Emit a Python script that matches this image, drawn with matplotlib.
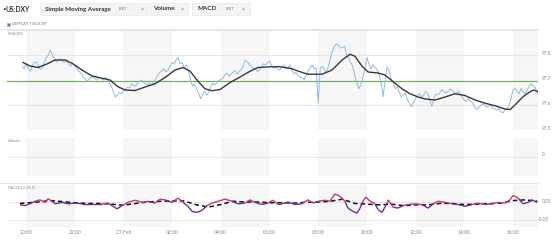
import numpy as np
import matplotlib
matplotlib.use("Agg")
import matplotlib.pyplot as plt
import matplotlib.transforms as mtransforms
from matplotlib.patches import Rectangle
from matplotlib.collections import LineCollection

plt.rcParams['font.family'] = ['Lato', 'DejaVu Sans']

# ---------------- data ----------------
# price samples every 5 minutes, minutes after 20:00 (26 Feb)
price_minutes = list(range(-10, 1261, 5))
price_values = [
    97.755, 97.745, 97.765, 97.750, 97.735, 97.752, 97.770, 97.772, 97.760, 97.742,
    97.748, 97.770, 97.790, 97.800, 97.820, 97.800, 97.785, 97.772, 97.780, 97.785,
    97.775, 97.770, 97.780, 97.765, 97.755, 97.768, 97.760, 97.745, 97.735, 97.728,
    97.715, 97.706, 97.695, 97.702, 97.710, 97.716, 97.705, 97.700, 97.712, 97.706,
    97.700, 97.712, 97.705, 97.690, 97.675, 97.655, 97.632, 97.640, 97.650, 97.645,
    97.655, 97.664, 97.670, 97.668, 97.685, 97.678, 97.675, 97.688, 97.695, 97.700,
    97.690, 97.684, 97.680, 97.688, 97.680, 97.690, 97.705, 97.720, 97.730, 97.738,
    97.745, 97.732, 97.740, 97.758, 97.770, 97.765, 97.780, 97.790, 97.765, 97.770,
    97.750, 97.760, 97.740, 97.705, 97.675, 97.685, 97.665, 97.650, 97.625, 97.640,
    97.655, 97.640, 97.650, 97.672, 97.687, 97.680, 97.690, 97.700, 97.700, 97.708,
    97.720, 97.728, 97.715, 97.722, 97.730, 97.738, 97.725, 97.735, 97.740, 97.755,
    97.780, 97.772, 97.765, 97.755, 97.745, 97.748, 97.733, 97.742, 97.750, 97.765,
    97.760, 97.770, 97.775, 97.760, 97.745, 97.752, 97.743, 97.740, 97.750, 97.760,
    97.752, 97.745, 97.760, 97.740, 97.725, 97.730, 97.720, 97.712, 97.710, 97.700,
    97.715, 97.735, 97.750, 97.760, 97.745, 97.748, 97.608, 97.745, 97.755, 97.742,
    97.730, 97.755, 97.787, 97.815, 97.835, 97.845, 97.840, 97.828, 97.830, 97.835,
    97.800, 97.790, 97.770, 97.755, 97.720, 97.690, 97.665, 97.680, 97.710, 97.745,
    97.790, 97.765, 97.745, 97.762, 97.750, 97.742, 97.720, 97.690, 97.633, 97.700,
    97.753, 97.735, 97.705, 97.690, 97.665, 97.672, 97.650, 97.632, 97.640, 97.648,
    97.620, 97.605, 97.593, 97.610, 97.625, 97.640, 97.645, 97.630, 97.640, 97.655,
    97.645, 97.620, 97.595, 97.625, 97.645, 97.640, 97.650, 97.662, 97.653, 97.648,
    97.655, 97.664, 97.660, 97.650, 97.645, 97.655, 97.645, 97.632, 97.620, 97.615,
    97.625, 97.615, 97.610, 97.595, 97.582, 97.590, 97.598, 97.605, 97.600, 97.592,
    97.595, 97.600, 97.587, 97.583, 97.580, 97.585, 97.573, 97.568, 97.580, 97.586,
    97.595, 97.625, 97.660, 97.668, 97.655, 97.645, 97.667, 97.652, 97.645, 97.660,
    97.675, 97.685, 97.675, 97.670, 97.645,
]

# Simple moving average (20), hours after 20:00
sma_hours = [
    -0.12, 0.16, 0.49, 0.86, 1.19, 1.60, 1.89, 2.30, 2.71, 3.12,
    3.45, 3.78, 4.07, 4.48, 4.89, 5.30, 5.71, 6.12, 6.45, 6.74,
    7.02, 7.35, 7.64, 7.97, 8.38, 8.79, 9.20, 9.53, 10.02, 10.43,
    10.92, 11.25, 11.58, 12.16, 12.57, 12.98, 13.31, 13.51, 13.80, 14.05,
    14.46, 14.74, 15.03, 15.44, 15.77, 16.10, 16.39, 16.80, 17.21, 17.62,
    18.03, 18.44, 18.86, 19.26, 19.67, 19.88, 20.08, 20.41, 20.70, 20.86, 21.03,
]
sma_values = [
    97.770, 97.756, 97.750, 97.764, 97.780, 97.780, 97.767, 97.740, 97.716, 97.707,
    97.700, 97.673, 97.660, 97.658, 97.672, 97.685, 97.710, 97.740, 97.750, 97.735,
    97.700, 97.665, 97.657, 97.662, 97.690, 97.712, 97.735, 97.750, 97.753, 97.753,
    97.745, 97.733, 97.723, 97.723, 97.740, 97.780, 97.803, 97.795, 97.755, 97.732,
    97.728, 97.720, 97.697, 97.665, 97.645, 97.632, 97.624, 97.620, 97.632, 97.645,
    97.638, 97.620, 97.607, 97.597, 97.584, 97.582, 97.600, 97.633, 97.653, 97.660, 97.653,
]

reference_level = 97.695

# MACD(12,26,9), hours after 20:00
macd_hours = [
    -0.25, -0.04, 0.16, 0.37, 0.57, 0.78, 0.90, 1.07, 1.19, 1.48,
    1.72, 2.01, 2.30, 2.71, 3.12, 3.37, 3.57, 3.74, 3.94, 4.19,
    4.48, 4.76, 5.01, 5.30, 5.50, 5.71, 6.00, 6.24, 6.45, 6.65,
    6.82, 7.02, 7.23, 7.43, 7.64, 7.89, 8.17, 8.46, 8.71, 8.99,
    9.20, 9.40, 9.69, 9.94, 10.14, 10.35, 10.51, 10.76, 11.05, 11.33,
    11.58, 11.79, 11.99, 12.28, 12.48, 12.69, 12.90, 13.10, 13.22, 13.43,
    13.59, 13.72, 13.84, 13.96, 14.13, 14.33, 14.46, 14.62, 14.83, 14.87,
    15.07, 15.28, 15.48, 15.69, 15.98, 16.26, 16.51, 16.72, 16.92, 17.21,
    17.50, 17.74, 18.03, 18.32, 18.56, 18.85, 19.14, 19.39, 19.67, 19.88,
    20.00, 20.21, 20.41, 20.62, 20.78, 20.99,
]
macd_values = [
    -0.007, -0.010, -0.005, 0.002, 0.006, -0.001, 0.009, 0.002, -0.005, -0.001,
    -0.005, -0.003, -0.005, -0.005, -0.005, -0.003, -0.012, -0.019, -0.010, -0.001,
    0.005, -0.001, 0.002, -0.003, 0.008, 0.006, -0.001, 0.011, -0.001, -0.012,
    -0.026, -0.029, -0.023, -0.010, -0.003, 0.002, 0.008, 0.002, -0.005, -0.003,
    0.006, -0.001, -0.007, -0.003, 0.005, -0.007, -0.005, 0.000, -0.007, -0.005,
    0.006, -0.003, 0.002, 0.005, 0.002, 0.022, 0.016, 0.002, -0.017, -0.026,
    -0.031, -0.017, 0.002, 0.014, 0.002, -0.005, -0.021, -0.029, -0.003, 0.006,
    -0.014, -0.017, -0.010, -0.007, -0.005, -0.007, -0.017, -0.005, 0.002, -0.001,
    -0.005, -0.007, -0.012, -0.007, -0.003, -0.007, -0.005, -0.001, -0.003, 0.006,
    0.018, 0.011, -0.005, -0.001, 0.006, -0.001,
]
signal_hours = [
    -0.25, 0.5, 1.0, 1.5, 2.0, 2.5, 3.0, 3.5, 4.0, 4.5, 5.0, 5.5, 6.0, 6.5,
    7.0, 7.5, 8.0, 8.5, 9.0, 9.5, 10.0, 10.5, 11.0, 11.5, 12.0, 12.5, 13.0,
    13.5, 14.0, 14.5, 15.0, 15.5, 16.0, 16.5, 17.0, 17.5, 18.0, 18.5, 19.0,
    19.5, 20.0, 20.5, 21.0,
]
signal_values = [
    -0.004, 0.000, 0.004, 0.001, -0.002, -0.004, -0.004, -0.006, -0.009, -0.004,
    0.000, 0.002, 0.003, 0.003, -0.008, -0.014, -0.007, 0.002, 0.000, 0.000,
    -0.002, -0.002, -0.003, -0.001, 0.000, 0.002, 0.008, -0.004, -0.006, -0.008,
    -0.006, -0.010, -0.008, -0.008, -0.004, -0.004, -0.007, -0.006, -0.005, -0.003,
    0.004, 0.006, 0.002,
]

tick_hours = [0, 2, 4, 6, 8, 10, 12, 14, 16, 18, 20]
tick_labels = ["20:00", "22:00", "27 Feb", "02:00", "04:00", "06:00",
               "08:00", "10:00", "12:00", "14:00", "16:00"]
price_ticks = [97.8, 97.7, 97.6, 97.5]
price_tick_labels = ["97.8", "97.7", "97.6", "97.5"]
macd_ticks = [0.0, -0.05]
macd_tick_labels = ["0.00", "-0.05"]
band_starts = [0, 4, 8, 12, 16, 20]

# ---------------- layout ----------------
W, H = 559, 241
fig = plt.figure(figsize=(W / 100, H / 100), dpi=100)
fig.patch.set_facecolor("white")

def fx(x):
    return x / W

def fy(y):
    return 1 - y / H

L, R = 7, 538
ax_p = fig.add_axes([fx(L), fy(130), fx(R) - fx(L), 100 / H])
ax_v = fig.add_axes([fx(L), fy(176), fx(R) - fx(L), 38 / H])
ax_m = fig.add_axes([fx(L), fy(227), fx(R) - fx(L), 42 / H])

xlim = ((L - 26) / 24.35, (R - 26) / 24.35)
grid_c = "#e6e6e6"
band_c = "#f6f6f6"
txt_c = "#888888"

for ax in (ax_p, ax_v, ax_m):
    ax.set_xlim(*xlim)
    for s in ax.spines.values():
        s.set_visible(False)
    ax.set_xticks([])
    ax.set_yticks([])
    for b in band_starts:
        ax.axvspan(b, b + 2, color=band_c, lw=0, zorder=0)

# main price panel
ax_p.set_ylim(97.5, 97.9)
for v in [97.9, 97.8, 97.6, 97.5]:
    ax_p.axhline(v, color=grid_c, lw=0.8, zorder=1)
ax_p.axhline(reference_level, color="#6fb35c", lw=0.9, zorder=2)
price_hours = np.array(price_minutes) / 60.0
ax_p.plot(price_hours, price_values, color="#8fbbe4", lw=0.7, zorder=3)
ax_p.plot(sma_hours, sma_values, color="#383838", lw=1.0, zorder=4)

def right_labels(ax, ticks, labels, dy):
    tr = mtransforms.blended_transform_factory(ax.transAxes, ax.transData)
    tr = mtransforms.offset_copy(tr, fig=fig, x=0, y=dy, units='dots')
    for v, lab in zip(ticks, labels):
        xoff = 1.0075 if not lab.startswith("-") else 0.999
        ax.text(xoff, v, lab, transform=tr, ha='left', va='center',
                fontsize=3.4, color=txt_c, clip_on=False)

right_labels(ax_p, price_ticks, price_tick_labels, 2)

# volume panel (empty)
ax_v.set_ylim(-1, 1)
ax_v.axhline(0, color=grid_c, lw=0.8, zorder=1)
right_labels(ax_v, [0], ["0"], 3)

# MACD panel
ax_m.set_ylim(-0.0694, 0.0472)
ax_m.axhline(0, color=grid_c, lw=0.8, zorder=1)
ax_m.axhline(-0.05, color=grid_c, lw=0.8, zorder=1)
ax_m.axhline(-0.0694, color=grid_c, lw=0.8, zorder=1)
right_labels(ax_m, macd_ticks, macd_tick_labels, 1)

ax_m.plot(signal_hours, signal_values, color="#111111", lw=1.1,
          dashes=(3, 2), zorder=3)
mh = np.array(macd_hours)
mv = np.array(macd_values)
sig_at = np.interp(mh, signal_hours, signal_values)
pts = np.column_stack([mh, mv]).reshape(-1, 1, 2)
segs = np.concatenate([pts[:-1], pts[1:]], axis=1)
above = (mv[:-1] + mv[1:]) / 2 >= (sig_at[:-1] + sig_at[1:]) / 2
cols = ["#cc3373" if a else "#6a2d9c" for a in above]
ax_m.add_collection(LineCollection(segs, colors=cols, lw=1.0, zorder=4))

# x tick labels
for h, lab in zip(tick_hours, tick_labels):
    ax_m.text(h, -0.0694, lab, ha='center', va='top', fontsize=3.6,
              color=txt_c, transform=mtransforms.offset_copy(
                  ax_m.transData, fig=fig, x=0, y=-2.5, units='dots'),
              clip_on=False)

# separators
for y in (29, 183):
    fig.add_artist(plt.Line2D([fx(0), fx(R)], [fy(y), fy(y)],
                              color="#e6e6e6", lw=0.8))

# panel labels
fig.text(fx(8), fy(33), "SMA(20)", fontsize=2.9, color=txt_c, va='center')
fig.text(fx(8), fy(141), "Volume", fontsize=2.9, color=txt_c, va='center')
fig.text(fx(8), fy(187), "MACD(12,26,9)", fontsize=2.9, color=txt_c, va='center')

# header
for x0, x1 in [(40, 148), (150, 188), (192, 250)]:
    fig.add_artist(Rectangle((fx(x0), fy(15)), fx(x1) - fx(x0), 12 / H,
                             transform=fig.transFigure, fc="#f4f4f4",
                             ec="#e8e8e8", lw=0.5))
hc = "#333333"
fig.text(fx(2), fy(9), "•", fontsize=4.5, color="#555555", va='center')
fig.text(fx(6), fy(9), "US:DXY", fontsize=4.9, color=hc, va='center',
         fontweight='bold')
fig.text(fx(45), fy(9), "Simple Moving Average", fontsize=4.5, color=hc,
         va='center', fontweight='bold')
fig.text(fx(119), fy(9), "EDIT", fontsize=2.8, color="#777777", va='center')
fig.text(fx(141), fy(9), "×", fontsize=3.8, color="#777777", va='center')
fig.text(fx(153), fy(9), "Volume", fontsize=4.5, color=hc, va='center',
         fontweight='bold')
fig.text(fx(181), fy(9), "×", fontsize=3.8, color="#777777", va='center')
fig.text(fx(197), fy(9), "MACD", fontsize=4.5, color=hc, va='center',
         fontweight='bold')
fig.text(fx(226), fy(9), "EDIT", fontsize=2.8, color="#777777", va='center')
fig.text(fx(242), fy(9), "×", fontsize=3.8, color="#777777", va='center')

fig.add_artist(Rectangle((fx(6.5), fy(26)), 3.5 / W, 3.5 / H,
                         transform=fig.transFigure, fc="#5b7fb0",
                         ec="#9aaecc", lw=0.4))
fig.text(fx(12), fy(24.3), "DISPLAY TOOLTIP", fontsize=3.0, color="#777777",
         va='center')

fig.savefig("out.png", dpi=100)
